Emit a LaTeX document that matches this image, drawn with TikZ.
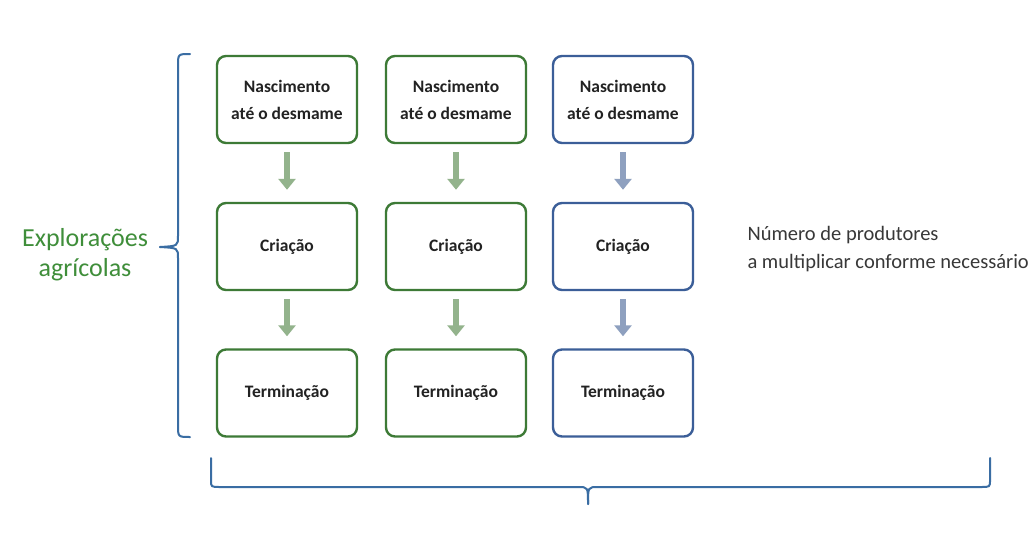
\documentclass[tikz,border=0pt]{standalone}
\usepackage{fontspec}
\setmainfont{Carlito}
\usetikzlibrary{arrows.meta}
\definecolor{gbord}{HTML}{3D7A36}
\definecolor{bbord}{HTML}{3B5E98}
\definecolor{garr}{HTML}{93B38C}
\definecolor{barr}{HTML}{8EA0BF}
\definecolor{gtext}{HTML}{3F8E3A}
\definecolor{brace}{HTML}{3A6DA3}
\definecolor{txt}{HTML}{222222}
\tikzset{
  stagebox/.style={draw=#1, line width=2.4pt, rounded corners=9pt, minimum width=140pt, minimum height=87pt, fill=white, align=center, font=\fontsize{17.5}{27}\selectfont\bfseries, text=txt},
  flowarrow/.style={draw=#1, line width=6pt, -{Triangle[length=11pt, width=17pt]}, shorten >=12pt, shorten <=8pt},
  bracestyle/.style={draw=brace, line width=2pt, line cap=round}
}
\begin{document}
\begin{tikzpicture}[x=1pt,y=-1pt]
\useasboundingbox (0,0) rectangle (1033,538);
\fill[white] (0,0) rectangle (1033,538);
% columns
\foreach \c/\x/\col in {1/287/gbord,2/456/gbord,3/623/bbord}{
  \node[stagebox=\col] (n\c) at (\x,99.5) {Nascimento\\até o desmame};
  \node[stagebox=\col] (c\c) at (\x,246.5) {Criação};
  \node[stagebox=\col] (t\c) at (\x,393) {Terminação};
}
\foreach \c in {1,2}{
  \draw[flowarrow=garr] (n\c.south) -- (c\c.north);
  \draw[flowarrow=garr] (c\c.south) -- (t\c.north);
}
\draw[flowarrow=barr] (n3.south) -- (c3.north);
\draw[flowarrow=barr] (c3.south) -- (t3.north);
% left brace
\coordinate (lbtop) at (190,54);
\coordinate (lbbot) at (190,437);
\coordinate (lbtip) at (160,247);
\draw[bracestyle] (lbtop) .. controls (178,54) .. (178,66) -- (178,236) .. controls (178,246) .. (lbtip);
\draw[bracestyle] (lbbot) .. controls (178,437) .. (178,425) -- (178,258) .. controls (178,248) .. (lbtip);
\node[text=gtext, font=\fontsize{26}{30}\selectfont, align=center] (expl) at (85,255) {Explorações\\agrícolas};
% bottom brace
\coordinate (bbl) at (211,458);
\coordinate (bbr) at (990,458);
\coordinate (bbtip) at (588,504);
\draw[bracestyle] (bbl) -- (211,480) .. controls (211,487) .. (220,487) -- (578,487) .. controls (588,487) .. (bbtip);
\draw[bracestyle] (bbr) -- (990,480) .. controls (990,487) .. (981,487) -- (598,487) .. controls (588,487) .. (bbtip);
% right text
\node[anchor=west, text=txt!90, font=\fontsize{20.5}{28}\selectfont, align=left] (num) at (744,249) {Número de produtores\\a multiplicar conforme necessário};
\end{tikzpicture}
\end{document}
